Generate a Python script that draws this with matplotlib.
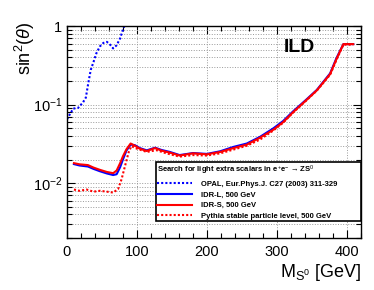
import matplotlib
matplotlib.use("Agg")
import matplotlib.pyplot as plt
from matplotlib.ticker import MultipleLocator, FixedLocator, FuncFormatter
import numpy as np

plt.rcParams['font.family'] = ['Liberation Sans', 'DejaVu Sans']
plt.rcParams['mathtext.fontset'] = 'custom'
plt.rcParams['mathtext.rm'] = 'Liberation Sans'
plt.rcParams['mathtext.it'] = 'Liberation Sans:italic'
plt.rcParams['mathtext.bf'] = 'Liberation Sans:bold'

# OPAL limit
opal_m = [0, 4, 9, 16, 23, 27, 30.5, 34, 38, 42, 47, 52, 57, 61, 66, 71, 76, 80.5, 83]
opal_s = [0.065, 0.075, 0.089, 0.091, 0.107, 0.123, 0.188, 0.277, 0.35, 0.45,
          0.55, 0.61, 0.63, 0.59, 0.52, 0.57, 0.70, 0.93, 1.05]

# IDR-L / IDR-S
idr_m = [10, 18, 30, 38, 47, 57, 66, 71, 76, 80, 85, 91, 97, 104, 114, 126, 135,
         147, 161, 180, 200, 219, 238, 257, 276, 295, 309, 323, 342, 357, 376,
         385, 395, 409]
idrl_s = [0.0175, 0.0168, 0.0163, 0.0152, 0.0142, 0.0133, 0.0127, 0.0130, 0.0160,
          0.020, 0.026, 0.031, 0.0305, 0.028, 0.0262, 0.0283, 0.0265, 0.025,
          0.0228, 0.0242, 0.0236, 0.0255, 0.029, 0.032, 0.039, 0.050, 0.062,
          0.082, 0.116, 0.154, 0.25, 0.39, 0.59, 0.59]
idrs_s = [0.018, 0.0174, 0.017, 0.0158, 0.0148, 0.0139, 0.0134, 0.0145, 0.018,
          0.022, 0.027, 0.032, 0.030, 0.0275, 0.0257, 0.028, 0.026, 0.0245,
          0.0225, 0.024, 0.0233, 0.025, 0.028, 0.031, 0.038, 0.048, 0.060,
          0.080, 0.114, 0.152, 0.245, 0.38, 0.59, 0.59]

# Pythia stable particle level
py_m = [10, 18, 28, 38, 47, 57, 66, 73, 78, 83, 88, 92, 100, 114, 128, 142, 161,
        180, 200, 219, 238, 257, 276, 295, 309, 323, 342, 357, 376, 385, 395, 409]
py_s = [0.0083, 0.0080, 0.0083, 0.0078, 0.0080, 0.0078, 0.0076, 0.0084, 0.0112,
        0.0166, 0.0245, 0.0296, 0.0275, 0.025, 0.0263, 0.0240, 0.0218, 0.0228,
        0.0225, 0.0240, 0.0268, 0.030, 0.036, 0.047, 0.059, 0.079, 0.113, 0.151,
        0.24, 0.37, 0.58, 0.58]

dots = (0, (1, 1))

fig = plt.figure(figsize=(3.74, 2.9), dpi=100)
ax = fig.add_axes([0.179, 0.179, 0.786, 0.731])

ax.plot(opal_m, opal_s, color='#0000ff', ls=dots, lw=1.5,
        label='OPAL, Eur.Phys.J. C27 (2003) 311-329')
ax.plot(idr_m, idrl_s, color='#0000ff', ls='-', lw=1.5, label='IDR-L, 500 GeV')
ax.plot(py_m, py_s, color='#ff0000', ls=dots, lw=1.5)
ax.plot(idr_m, idrs_s, color='#ff0000', ls='-', lw=1.5, label='IDR-S, 500 GeV')
# empty handle so the legend order matches
ax.plot([], [], color='#ff0000', ls=dots, lw=1.5,
        label='Pythia stable particle level, 500 GeV')

ax.set_yscale('log')
ax.set_xlim(0, 420)
ax.set_ylim(0.002, 1)

ax.xaxis.set_major_locator(MultipleLocator(100))
ax.xaxis.set_minor_locator(MultipleLocator(20))
ax.yaxis.set_major_locator(FixedLocator([0.01, 0.1, 1]))
minors = [m * 10.0 ** e for e in (-3, -2, -1) for m in range(2, 10)]
ax.yaxis.set_minor_locator(FixedLocator(minors))


def ylab(v, pos):
    if abs(v - 1) < 1e-9:
        return '1'
    return r'$10^{%d}$' % int(round(np.log10(v)))


ax.yaxis.set_major_formatter(FuncFormatter(ylab))
ax.yaxis.set_minor_formatter(FuncFormatter(lambda v, p: ''))

ax.tick_params(which='both', direction='in', top=True, right=True, labelsize=10.5)
ax.tick_params(which='major', length=6, width=0.8)
ax.tick_params(which='minor', length=3.5, width=0.8)
ax.tick_params(axis='x', pad=5)

ax.grid(True, which='major', axis='x', color='#999999', ls=':', lw=0.7)
ax.grid(True, which='both', axis='y', color='#999999', ls=':', lw=0.7)
for s in ax.spines.values():
    s.set_linewidth(1.0)

leg = ax.legend(loc='lower left', bbox_to_anchor=(0.303, 0.08, 0.697, 0.274),
                mode='expand', fancybox=False, edgecolor='black', framealpha=1,
                prop={'size': 5.5, 'weight': 'bold'}, handlelength=4.5,
                handletextpad=1.3, labelspacing=0.45, borderpad=0.15,
                borderaxespad=0,
                title='Search for light extra scalars in e$^{+}$e$^{-}$ \u2192 ZS$^{0}$',
                title_fontproperties={'size': 5.5, 'weight': 'bold'},
                alignment='left')
leg.get_frame().set_linewidth(1.2)

ax.text(0.789, 0.9, 'ILD', transform=ax.transAxes, fontsize=14,
        fontweight='bold', ha='center', va='center')

fig.text(0.965, 0.045, r'M$_{\mathrm{S^0}}$ [GeV]', fontsize=13, ha='right')
fig.text(0.067, 0.925, r'sin$^{2}$($\theta$)', fontsize=13, rotation=90,
         ha='center', va='top')

fig.savefig('out.png', dpi=100)
